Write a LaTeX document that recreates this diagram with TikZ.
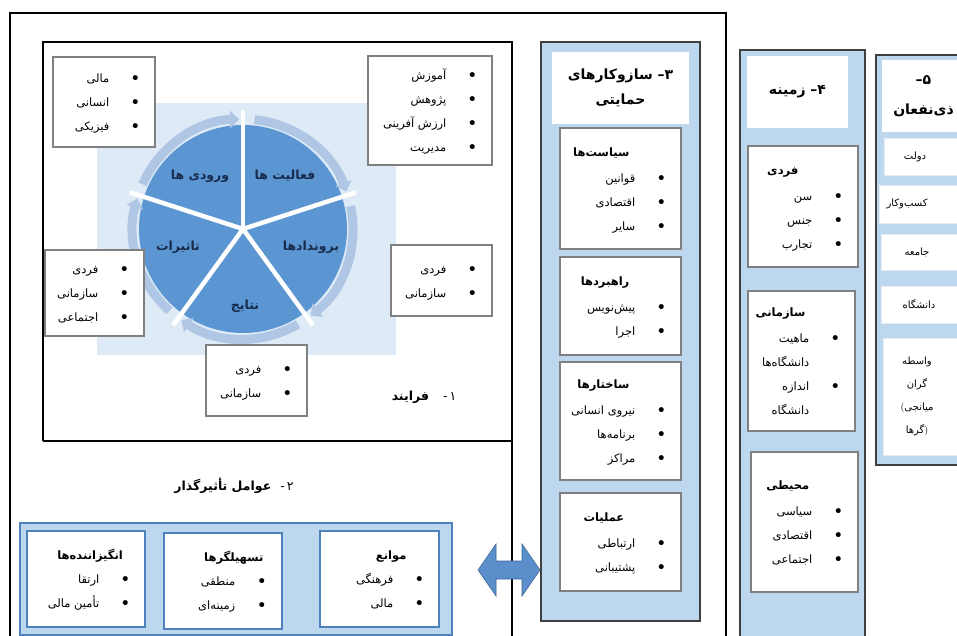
\documentclass[tikz,border=0pt]{standalone}
\usepackage{fontspec}
\usepackage{graphicx}
\usepackage{tikz}
\usetikzlibrary{calc,positioning,arrows.meta}
\TeXXeTstate=1
\newfontfamily\fafont[Script=Arabic]{DejaVu Sans}
\newcommand{\fa}[1]{{\fafont\beginR #1\endR}}
\newcommand{\fab}[1]{{\fafont\bfseries\beginR #1\endR}}
\newcommand{\bul}{\scalebox{1.6}{\textbullet}}
\newcommand{\li}[1]{\fa{#1} & \bul}
\newcommand{\ti}[2][6pt]{{\fontsize{11.5}{12}\selectfont\fab{#2}}\kern#1 & \\[2pt]}
\newcommand{\tc}[1]{\multicolumn{2}{c}{\fontsize{11.5}{12}\selectfont\fab{#1}}\\[0pt]}
\newcommand{\blist}[1]{\begin{tabular}{@{}r@{\hspace{19pt}}c@{}}#1\end{tabular}}
\renewcommand{\arraystretch}{2}
\definecolor{panelblue}{HTML}{BDD7EE}
\definecolor{paleblue}{HTML}{DEEBF7}
\definecolor{pieblue}{HTML}{5B96D2}
\definecolor{ringblue}{HTML}{AFC6E4}
\definecolor{edgeblue}{HTML}{4F81BD}
\definecolor{navy}{HTML}{172B4D}
\definecolor{arrowblue}{HTML}{5A8FCC}
\tikzset{
    wh/.style 2 args={
    minimum width=#1pt,minimum height=#2pt
    },
    frame/.style={
    draw=black,line width=1.6pt
    },
    panel/.style={
    rectangle,draw=black!75,line width=1.2pt,fill=panelblue,inner sep=0pt
    },
    headbox/.style={
    rectangle,fill=white,inner sep=0pt,align=center,font=\fontsize{14}{25}\selectfont
    },
    listbox/.style={
    rectangle,draw=black!50,line width=1.1pt,fill=white,inner sep=0pt
    },
    factorbox/.style={
    rectangle,draw=edgeblue,line width=1.1pt,fill=white,inner sep=0pt
    },
    actorbox/.style={
    rectangle,draw=edgeblue!15,line width=0.8pt,fill=white,inner sep=0pt
    },
    actortext/.style={
    inner sep=0pt,align=center,font=\fontsize{10}{23}\selectfont
    },
    items/.style={
    inner sep=0pt,font=\fontsize{11.5}{12}\selectfont
    },
    slice/.style={
    text=navy,inner sep=0pt,font=\fontsize{12.5}{12}\selectfont
    },
    spoke/.style={
    draw=white,line width=4.5pt
    },
    cycarrow/.style={
    draw=ringblue,line width=9pt,-{Triangle[length=9pt,width=17pt]}
    },
    caption/.style={
    inner sep=0pt,font=\fontsize{12.5}{12}\selectfont
    },
    link/.style={
    draw=edgeblue!80!black,line width=0.6pt,fill=arrowblue
    },
}

\begin{document}
\begin{tikzpicture}[x=1pt,y=-1pt]
   \useasboundingbox (0,0) rectangle (957,636);
   \clip (0,0) rectangle (957,636);

   %frames
   \draw[frame] (10,650) -- (10,13) -- (726,13) -- (726,650);
   \draw[frame] (43,441) -- (43,42) -- (512,42) -- (512,650);
   \draw[frame] (43,441) -- (512,441);

   %process cycle
   \node[fill=paleblue,wh={299}{252},inner sep=0pt] (piebg) at (246.5,229) {};
   \node[circle,fill=pieblue,minimum size=208pt,inner sep=0pt] (pie) at (243,229) {};
   \foreach \a in {-90,-18,54,126,198}
     \draw[cycarrow] (pie) ++(\a+6:110) arc[start angle=\a+6, end angle=\a+70, radius=110];
   \foreach \a in {-90,-18,54,126,198}
     \draw[spoke] (pie.center) -- ++(\a:119);
   \node[slice] (s-in) at (200,176) {\fab{ورودی ها}};
   \node[slice] (s-act) at (285,176) {\fab{فعالیت ها}};
   \node[slice] (s-out) at (311,247) {\fab{بروندادها}};
   \node[slice] (s-res) at (245,306) {\fab{نتایج}};
   \node[slice] (s-imp) at (178,247) {\fab{تاثیرات}};

   %process lists
   \node[listbox,wh={102}{90}] (inputs) at (104,102) {};
   \node[items,anchor=east] (inputs-l) at ([xshift=-13pt]inputs.east)
     {\blist{\li{مالی}\\ \li{انسانی}\\ \li{فیزیکی}}};
   \node[listbox,wh={124}{109}] (acts) at (430,110.5) {};
   \node[items,anchor=east] (acts-l) at ([xshift=-13pt]acts.east)
     {\blist{\li{آموزش}\\ \li{پژوهش}\\ \li{ارزش آفرینی}\\ \li{مدیریت}}};
   \node[listbox,wh={101}{71}] (outs) at (441.5,280.5) {};
   \node[items,anchor=east] (outs-l) at ([xshift=-13pt]outs.east)
     {\blist{\li{فردی}\\ \li{سازمانی}}};
   \node[listbox,wh={99}{86}] (imps) at (94.5,293) {};
   \node[items,anchor=east] (imps-l) at ([xshift=-13pt]imps.east)
     {\blist{\li{فردی}\\ \li{سازمانی}\\ \li{اجتماعی}}};
   \node[listbox,wh={101}{71}] (ress) at (256.5,380.5) {};
   \node[items,anchor=east] (ress-l) at ([xshift=-13pt]ress.east)
     {\blist{\li{فردی}\\ \li{سازمانی}}};
   \node[caption] (cap1) at (424,397)
     {\fafont\beginR\mbox{۱}\kern2pt\mbox{-}\hspace{14pt}{\bfseries فرایند}\endR};

   %influencing factors
   \node[caption] (cap2) at (234,486)
     {\fafont\beginR\mbox{۲}\kern2pt\mbox{-}\hspace{9pt}{\bfseries عوامل تأثیرگذار}\endR};
   \node[rectangle,draw=edgeblue,line width=1.1pt,fill=panelblue,inner sep=0pt,wh={432}{112}] (factors) at (236,579) {};
   \node[factorbox,wh={118}{96}] (drivers) at (86,579) {};
   \node[items,anchor=east] (drivers-l) at ([xshift=-13pt]drivers.east)
     {\blist{\tc{انگیزاننده‌ها} \li{ارتقا}\\ \li{تأمین مالی}}};
   \node[factorbox,wh={118}{96}] (enablers) at (223,581) {};
   \node[items,anchor=east] (enablers-l) at ([xshift=-13pt]enablers.east)
     {\blist{\tc{تسهیلگرها} \li{منطقی}\\ \li{زمینه‌ای}}};
   \node[factorbox,wh={119}{96}] (barriers) at (379.5,579) {};
   \node[items,anchor=east] (barriers-l) at ([xshift=-13pt]barriers.east)
     {\blist{\tc{موانع} \li{فرهنگی}\\ \li{مالی}}};

   %link
   \coordinate (linkl) at (478,570);
   \coordinate (linkr) at (540,570);
   \draw[link] (linkl) -- ++(18,-26) -- ++(0,17) -- ++(26,0) -- ++(0,-17) -- (linkr)
     -- ++(-18,26) -- ++(0,-17) -- ++(-26,0) -- ++(0,17) -- cycle;

   %support mechanisms
   \node[panel,wh={159}{579}] (support) at (620.5,331.5) {};
   \node[headbox,wh={137}{72}] (support-h) at (620.5,88)
     {\fab{\mbox{۳}\mbox{–} سازوکارهای}\\ \fab{حمایتی}};
   \node[listbox,wh={121}{121}] (policy) at (620.5,188.5) {};
   \node[items,anchor=east] (policy-l) at ([xshift=-13pt]policy.east)
     {\blist{\ti{سیاست‌ها} \li{قوانین}\\ \li{اقتصادی}\\ \li{سایر}}};
   \node[listbox,wh={121}{98}] (strategy) at (620.5,306) {};
   \node[items,anchor=east] (strategy-l) at ([xshift=-13pt]strategy.east)
     {\blist{\ti{راهبردها} \li{پیش‌نویس}\\ \li{اجرا}}};
   \node[listbox,wh={121}{118}] (structure) at (620.5,421) {};
   \node[items,anchor=east] (structure-l) at ([xshift=-13pt]structure.east)
     {\blist{\ti{ساختارها} \li{نیروی انسانی}\\ \li{برنامه‌ها}\\ \li{مراکز}}};
   \node[listbox,wh={121}{98}] (operation) at (620.5,542) {};
   \node[items,anchor=east] (operation-l) at ([xshift=-13pt]operation.east)
     {\blist{\ti[11pt]{عملیات} \li{ارتباطی}\\ \li{پشتیبانی}}};

   %context
   \node[panel,wh={125}{590}] (context) at (802.5,345) {};
   \node[headbox,wh={101}{72}] (context-h) at (797.5,92)
     {\fab{\mbox{۴}\mbox{–} زمینه}};
   \node[listbox,wh={110}{121}] (person) at (803,206.5) {};
   \node[items,anchor=east] (person-l) at ([xshift=-13pt]person.east)
     {\blist{\ti[14pt]{فردی} \li{سن}\\ \li{جنس}\\ \li{تجارب}}};
   \node[listbox,wh={107}{140}] (org) at (801.5,361) {};
   \node[items,anchor=east] (org-l) at ([xshift=-13pt]org.east)
     {\blist{\ti[4pt]{سازمانی} \li{ماهیت}\\ \fa{دانشگاه‌ها} & \\ \li{اندازه}\\ \fa{دانشگاه} &}};
   \node[listbox,wh={107}{140}] (env) at (804.5,522) {};
   \node[items,anchor=east] (env-l) at ([xshift=-13pt]env.east)
     {\blist{\ti[3pt]{محیطی} \li{سیاسی}\\ \li{اقتصادی}\\ \li{اجتماعی}}};

   %stakeholders
   \node[panel,wh={94}{410}] (actors) at (923,260) {};
   \node[headbox,wh={83}{72},font=\fontsize{14}{30}\selectfont] (actors-h) at (923.5,96)
     {\fab{\mbox{۵}\mbox{–}}\\ \fab{ذی‌نفعان}};
   \node[actorbox,wh={76}{37}] (gov) at (922,156.5) {};
   \node[actortext] (gov-t) at (915,156.5) {\fa{دولت}};
   \node[actorbox,wh={81}{38}] (biz) at (919.5,204) {};
   \node[actortext] (biz-t) at (907,204) {\fa{کسب‌وکار}};
   \node[actorbox,wh={79}{36}] (soc) at (920.5,252) {};
   \node[actortext] (soc-t) at (917,252) {\fa{جامعه}};
   \node[actorbox,wh={79}{37}] (uni) at (920.5,304.5) {};
   \node[actortext] (uni-t) at (919,304.5) {\fa{دانشگاه}};
   \node[actorbox,wh={77}{117}] (broker) at (921.5,396.5) {};
   \node[actortext] (broker-t) at (917,396.5)
     {\fa{واسطه}\\ \fa{گران}\\ \beginR\mbox{\fafont میانجی}\mbox{(}\endR\\ \beginR\mbox{)}\mbox{\fafont گرها}\endR};
\end{tikzpicture}
\end{document}
